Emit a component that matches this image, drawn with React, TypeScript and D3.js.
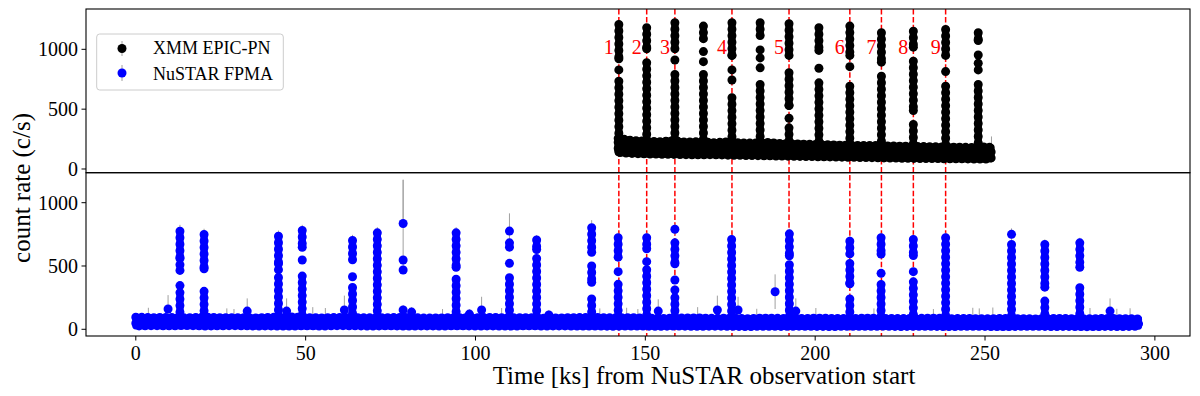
import React from "react";
import * as d3 from "d3";

// ---------- tick labels ----------
const xTicks = [0, 50, 100, 150, 200, 250, 300];
const yTicks = [0, 500, 1000];

// ---------- flare markers (red dashed lines) ----------
const markTime = [142.2, 150.4, 158.7, 175.5, 192.3, 210.2, 219.5, 228.9, 238.4];
const markLabel = ["1", "2", "3", "4", "5", "6", "7", "8", "9"];

// ---------- XMM EPIC-PN quiescent band (envelope of the points, c/s) ----------
const xmmBandTime = [142, 146, 150, 154, 158, 162, 166, 170, 174, 178, 182, 186, 190, 194, 198, 202, 206, 210, 214, 218, 222, 226, 230, 234, 238, 242, 246, 250, 251.8];
const xmmBandHigh = [256, 238, 232, 228, 236, 224, 228, 220, 226, 218, 216, 222, 212, 210, 206, 204, 200, 198, 196, 196, 192, 190, 188, 186, 184, 182, 180, 184, 180];
const xmmBandLow = [138, 130, 126, 124, 122, 120, 118, 120, 116, 114, 112, 110, 108, 106, 104, 102, 100, 98, 96, 94, 92, 90, 88, 88, 86, 86, 84, 82, 86];

// ---------- XMM flares: time, continuous runs of points [low, high], isolated points ----------
const xmmFlareTime = [142.2, 150.4, 158.7, 167.1, 175.5, 183.8, 192.3, 201.1, 210.2, 219.5, 228.9, 238.4, 248.0];
const xmmFlareRuns = [
  [[921, 1208], [150, 734]],
  [[1005, 1181], [150, 888]],
  [[1005, 1222], [150, 790]],
  [[1089, 1194], [150, 790]],
  [[949, 1222], [150, 596]],
  [[1116, 1222], [150, 706]],
  [[949, 1214], [530, 804], [150, 344]],
  [[991, 1181], [150, 720]],
  [[949, 1194], [150, 692]],
  [[893, 1139], [150, 775]],
  [[1018, 1152], [489, 901], [150, 372]],
  [[949, 1166], [150, 692]],
  [[1074, 1139], [150, 706]],
];
const xmmFlareDots = [[828], [], [911], [981, 897], [828, 744], [995, 928, 845], [424], [842], [855], [], [], [814], [953, 884, 828]];
const xmmErrTickTime = [251.9];
const xmmErrTickTop = [272];

// ---------- NuSTAR FPMA quiescent band ----------
const nuBandTime = [0, 5, 10, 15, 20, 25, 30, 35, 40, 45, 50, 55, 60, 65, 70, 75, 80, 85, 90, 95, 100, 105, 110, 115, 120, 125, 130, 135, 140, 145, 150, 155, 160, 165, 170, 175, 180, 185, 190, 195, 200, 205, 210, 215, 220, 225, 230, 235, 240, 245, 250, 255, 260, 265, 270, 275, 280, 285, 290, 295.2];
const nuBandHigh = [96, 92, 94, 90, 96, 91, 92, 89, 94, 98, 92, 90, 94, 91, 90, 92, 94, 88, 90, 92, 91, 94, 90, 92, 88, 90, 92, 94, 90, 92, 88, 86, 88, 90, 86, 88, 84, 88, 86, 84, 88, 86, 84, 88, 86, 84, 86, 88, 84, 86, 82, 86, 84, 82, 86, 84, 82, 86, 84, 82];
const nuBandLow = [26, 29, 27, 30, 26, 28, 29, 26, 27, 25, 28, 26, 29, 27, 26, 28, 25, 27, 26, 28, 26, 27, 25, 28, 26, 27, 25, 26, 24, 26, 25, 24, 26, 23, 25, 24, 22, 24, 23, 25, 23, 22, 24, 23, 25, 22, 24, 23, 22, 24, 23, 21, 23, 24, 22, 23, 21, 23, 22, 24];

// ---------- NuSTAR flares ----------
const nuFlareTime = [13.0, 20.1, 42.0, 49.0, 63.8, 71.1, 78.7, 94.3, 110.0, 118.0, 134.2, 142.0, 150.4, 158.7, 175.4, 192.4, 210.2, 219.4, 228.9, 238.4, 257.8, 267.6, 277.9];
const nuFlareRuns = [
  [[560, 775], [60, 290]],
  [[478, 749], [60, 300]],
  [[517, 735], [60, 410]],
  [[648, 780], [60, 420]],
  [[549, 701], [60, 330]],
  [[60, 762]],
  [],
  [[490, 762], [60, 395]],
  [[649, 683], [60, 407]],
  [[630, 705], [60, 560]],
  [[609, 802], [372, 500], [60, 240]],
  [[570, 723], [60, 355]],
  [[636, 723], [60, 470]],
  [[517, 683], [60, 250]],
  [[60, 709]],
  [[580, 754], [60, 510]],
  [[596, 696], [360, 520], [60, 240]],
  [[595, 723], [60, 354]],
  [[583, 709], [60, 375]],
  [[60, 723]],
  [[60, 670]],
  [[333, 670], [60, 223]],
  [[490, 683], [60, 328]],
];
const nuFlareDots = [[510, 465, 345], [], [470], [547], [415], [], [836, 547, 468], [], [776, 521], [], [], [455], [534], [790, 389, 310], [], [], [], [442], [455], [], [750], [], []];
const nuFlarePeakErr = [50, 45, 45, 45, 45, 45, 345, 45, 140, 40, 60, 40, 40, 45, 40, 40, 40, 40, 40, 40, 47, 40, 40];

// ---------- NuSTAR single raised points ----------
const nuOutlierTime = [9.5, 32.8, 44.4, 61.4, 78.7, 81.2, 98.2, 101.8, 121.6, 153.8, 171.2, 177.3, 188.2, 194.3, 286.8];
const nuOutlierRate = [160, 144, 144, 152, 152, 136, 120, 152, 113, 144, 152, 152, 297, 144, 144];
const nuOutlierErr = [110, 100, 100, 114, 40, 40, 40, 105, 40, 93, 114, 105, 137, 100, 100];

// ---------- NuSTAR small error bars poking above the band ----------
const nuErrTickTime = [3.7, 26.8, 28.9, 52.1, 55.8, 80.7, 90.3, 107.7, 136.6, 144.5, 147.8, 165.4, 182.8, 200.2, 217.3, 234.8, 246.4, 248.3, 252.3, 280.9, 288.8, 292.7];
const nuErrTickTop = [170, 165, 160, 175, 168, 170, 160, 168, 165, 170, 160, 175, 162, 168, 165, 160, 170, 165, 172, 168, 162, 166];

// ---------- layout ----------
const W = 1200;
const H = 396;
const L = 86;
const R = 1190;
const TOP = 9;
const MID = 172.7;
const BOT = 336;
const RAD = 4.5;
const FONT = "'Liberation Serif', 'Times New Roman', 'DejaVu Serif', serif";
const ERR = "#a0a0a0";

const x = d3.scaleLinear().domain([-14.66, 310.34]).range([L, R]);
const yTop = d3.scaleLinear().domain([-31, 1337]).range([MID, TOP]);
const yBot = d3.scaleLinear().domain([-53, 1237]).range([BOT, MID]);

function Band({ time, hi, lo, y, color }: any) {
  const pts = time.map((t: number, i: number) => ({ t, hi: hi[i], lo: lo[i] }));
  const area = d3
    .area<any>()
    .x((d) => x(d.t))
    .y0((d) => y(d.lo))
    .y1((d) => y(d.hi));
  const d = area(pts) || "";
  return (
    <g>
      <path d={d} fill={color} stroke={color} strokeWidth={RAD * 2 - 2} strokeLinejoin="round" />
      <path d={d} fill="none" stroke={color} strokeWidth={RAD * 2} strokeLinecap="round" strokeDasharray="0 6" />
    </g>
  );
}

function Flares({ time, runs, dots, y, color }: any) {
  return (
    <g>
      {time.map((t: number, i: number) => (
        <g key={i}>
          {runs[i].map((r: number[], j: number) => (
            <g key={"r" + j}>
              <line
                x1={x(t)}
                x2={x(t)}
                y1={y(r[0])}
                y2={y(r[1])}
                stroke={color}
                strokeWidth={RAD * 2 - 1.6}
                strokeLinecap="round"
              />
              <line
                x1={x(t)}
                x2={x(t)}
                y1={y(r[1])}
                y2={y(r[0])}
                stroke={color}
                strokeWidth={RAD * 2}
                strokeLinecap="round"
                strokeDasharray="0 6.5"
              />
              <circle cx={x(t)} cy={y(r[0])} r={RAD} fill={color} />
            </g>
          ))}
          {dots[i].map((v: number, j: number) => (
            <circle key={"d" + j} cx={x(t)} cy={y(v)} r={RAD} fill={color} />
          ))}
        </g>
      ))}
    </g>
  );
}

function YAxis({ y }: any) {
  return (
    <g>
      {yTicks.map((v) => (
        <g key={v}>
          <line x1={L - 4.5} x2={L} y1={y(v)} y2={y(v)} stroke="#000" strokeWidth={1} />
          <text x={L - 8} y={y(v) + 6.8} textAnchor="end" fontSize={20} fontFamily={FONT} fill="#000">
            {v}
          </text>
        </g>
      ))}
    </g>
  );
}

export default function App() {
  const nuPeaks = nuFlareTime.map((_, i) => {
    const vals = [...nuFlareRuns[i].map((r) => r[1]), ...nuFlareDots[i]];
    return Math.max(...vals);
  });

  return (
    <svg width={W} height={H} style={{ position: "absolute", left: 0, top: 0, background: "#fff" }}>
      <rect x={0} y={0} width={W} height={H} fill="#fff" />

      {/* red dashed flare markers (behind data) */}
      {markTime.map((t, i) => (
        <line
          key={"m" + i}
          x1={x(t)}
          x2={x(t)}
          y1={TOP}
          y2={BOT}
          stroke="#ff0000"
          strokeWidth={1.5}
          strokeDasharray="5.5,2.4"
        />
      ))}

      {/* ---------- top panel: XMM ---------- */}
      <g>
        {xmmErrTickTime.map((t, i) => (
          <line key={i} x1={x(t)} x2={x(t)} y1={yTop(180)} y2={yTop(xmmErrTickTop[i])} stroke={ERR} strokeWidth={1} />
        ))}
        <Band time={xmmBandTime} hi={xmmBandHigh} lo={xmmBandLow} y={yTop} color="#000" />
        <Flares time={xmmFlareTime} runs={xmmFlareRuns} dots={xmmFlareDots} y={yTop} color="#000" />
      </g>

      {/* ---------- bottom panel: NuSTAR ---------- */}
      <g>
        {nuErrTickTime.map((t, i) => (
          <line key={"e" + i} x1={x(t)} x2={x(t)} y1={yBot(85)} y2={yBot(nuErrTickTop[i])} stroke={ERR} strokeWidth={1} />
        ))}
        {nuOutlierTime.map((t, i) => (
          <line
            key={"oe" + i}
            x1={x(t)}
            x2={x(t)}
            y1={yBot(nuOutlierRate[i] - nuOutlierErr[i])}
            y2={yBot(nuOutlierRate[i] + nuOutlierErr[i])}
            stroke={ERR}
            strokeWidth={1}
          />
        ))}
        {nuFlareTime.map((t, i) => (
          <line
            key={"fe" + i}
            x1={x(t)}
            x2={x(t)}
            y1={yBot(nuPeaks[i] - nuFlarePeakErr[i])}
            y2={yBot(nuPeaks[i] + nuFlarePeakErr[i])}
            stroke={ERR}
            strokeWidth={1}
          />
        ))}
        <Band time={nuBandTime} hi={nuBandHigh} lo={nuBandLow} y={yBot} color="#0000ff" />
        <Flares time={nuFlareTime} runs={nuFlareRuns} dots={nuFlareDots} y={yBot} color="#0000ff" />
        {nuOutlierTime.map((t, i) => (
          <circle key={"o" + i} cx={x(t)} cy={yBot(nuOutlierRate[i])} r={RAD} fill="#0000ff" />
        ))}
        {/* error bar of the isolated high point drawn over lower dots */}
        {nuFlareTime.map((t, i) =>
          nuFlarePeakErr[i] > 200 ? (
            <line
              key={"fe2" + i}
              x1={x(t)}
              x2={x(t)}
              y1={yBot(nuPeaks[i] + RAD / 0.1266)}
              y2={yBot(nuPeaks[i] + nuFlarePeakErr[i])}
              stroke={ERR}
              strokeWidth={1}
            />
          ) : null
        )}
      </g>

      {/* flare number labels */}
      {markTime.map((t, i) => (
        <text key={"l" + i} x={x(t) - 5} y={54} textAnchor="end" fontSize={20} fontFamily={FONT} fill="#ff0000">
          {markLabel[i]}
        </text>
      ))}

      {/* frames */}
      <rect x={L} y={TOP} width={R - L} height={MID - TOP} fill="none" stroke="#000" strokeWidth={1.1} />
      <rect x={L} y={MID} width={R - L} height={BOT - MID} fill="none" stroke="#000" strokeWidth={1.1} />

      <YAxis y={yTop} />
      <YAxis y={yBot} />

      {/* x axis */}
      {xTicks.map((v) => (
        <g key={"x" + v}>
          <line x1={x(v)} x2={x(v)} y1={BOT} y2={BOT + 4.5} stroke="#000" strokeWidth={1} />
          <text x={x(v)} y={360} textAnchor="middle" fontSize={20} fontFamily={FONT} fill="#000">
            {v}
          </text>
        </g>
      ))}

      <text x={704} y={384} textAnchor="middle" fontSize={25} fontFamily={FONT} fill="#000">
        Time [ks] from NuSTAR observation start
      </text>
      <text
        transform="translate(30,188) rotate(-90)"
        textAnchor="middle"
        fontSize={25}
        fontFamily={FONT}
        fill="#000"
      >
        count rate (c/s)
      </text>

      {/* legend */}
      <g>
        <rect x={96.7} y={34} width={186.6} height={56} rx={3} fill="#fff" fillOpacity={0.8} stroke="#cccccc" strokeWidth={1} />
        <line x1={122} x2={122} y1={41} y2={56} stroke={ERR} strokeWidth={1} />
        <circle cx={122} cy={48.5} r={RAD} fill="#000" />
        <text x={153} y={54} fontSize={18} fontFamily={FONT} fill="#000">
          XMM EPIC-PN
        </text>
        <line x1={122} x2={122} y1={65} y2={81} stroke={ERR} strokeWidth={1} />
        <circle cx={122} cy={73} r={RAD} fill="#0000ff" />
        <text x={153} y={79.5} fontSize={18} fontFamily={FONT} fill="#000">
          NuSTAR FPMA
        </text>
      </g>
    </svg>
  );
}
